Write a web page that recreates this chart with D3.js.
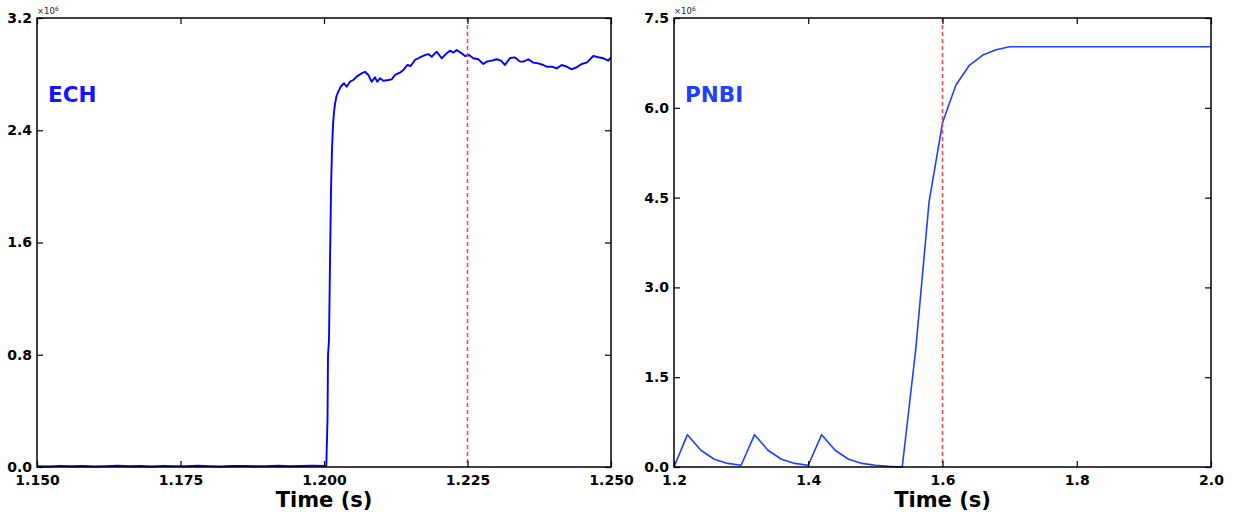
<!DOCTYPE html>
<html>
<head>
<meta charset="utf-8">
<script src="https://cdn.jsdelivr.net/npm/d3@7"></script>
<style>
  html, body { margin: 0; padding: 0; background: #fff; }
  svg { display: block; font-family: "DejaVu Sans", sans-serif; }
</style>
</head>
<body>
<svg id="chart" width="1233" height="515"></svg>
<script>
// ECH power (units of 1e6) versus time (s)
const echTime = [
  1.150, 1.152, 1.154, 1.156, 1.158, 1.160, 1.162, 1.164, 1.166, 1.168,
  1.170, 1.172, 1.174, 1.176, 1.178, 1.180, 1.182, 1.184, 1.186, 1.188,
  1.190, 1.192, 1.194, 1.196, 1.198, 1.2002, 1.2004,
  1.20061, 1.20070, 1.20087, 1.20105, 1.20122, 1.20139, 1.20157, 1.20174, 1.20192,
  1.20218, 1.20249, 1.20291, 1.20348, 1.20395, 1.20453, 1.20510, 1.20570, 1.20657,
  1.20714, 1.20772, 1.20831, 1.20889, 1.20929, 1.20976, 1.21033, 1.21120, 1.21179,
  1.21237, 1.21324, 1.21381, 1.21451, 1.21510, 1.21585, 1.21643, 1.21672, 1.21760,
  1.21817, 1.21876, 1.21963, 1.22050, 1.22138, 1.22195, 1.22253, 1.22312, 1.22399,
  1.22456, 1.22526, 1.22601, 1.22688, 1.22775, 1.22834, 1.22922, 1.23009, 1.23084,
  1.23153, 1.23240, 1.23328, 1.23415, 1.23472, 1.23559, 1.23646, 1.23733, 1.23820,
  1.23880, 1.23967, 1.24054, 1.24141, 1.24228, 1.24315, 1.24402, 1.24489, 1.24577,
  1.24692, 1.24779, 1.24866, 1.24953, 1.25000
];
const echPower = [
  0.006, 0.004, 0.008, 0.005, 0.007, 0.004, 0.006, 0.009, 0.005, 0.007,
  0.004, 0.008, 0.006, 0.005, 0.009, 0.006, 0.004, 0.007, 0.008, 0.005,
  0.006, 0.009, 0.005, 0.007, 0.010, 0.008, 0.010,
  0.335, 0.798, 0.905, 1.475, 1.974, 2.259, 2.437, 2.530, 2.587,
  2.644, 2.675, 2.710, 2.735, 2.710, 2.746, 2.758, 2.782, 2.806,
  2.817, 2.794, 2.746, 2.777, 2.746, 2.770, 2.753, 2.758, 2.763,
  2.794, 2.810, 2.829, 2.865, 2.858, 2.901, 2.913, 2.920, 2.936,
  2.943, 2.924, 2.960, 2.913, 2.948, 2.967, 2.953, 2.972, 2.948,
  2.929, 2.936, 2.913, 2.906, 2.872, 2.889, 2.896, 2.906, 2.896,
  2.865, 2.915, 2.919, 2.889, 2.889, 2.906, 2.882, 2.877, 2.865,
  2.853, 2.853, 2.841, 2.865, 2.853, 2.834, 2.849, 2.872, 2.882,
  2.929, 2.920, 2.913, 2.896, 2.920
];

// PNBI power (units of 1e6) versus time (s)
const nbiTime = [
  1.20, 1.22, 1.24, 1.26, 1.28, 1.30, 1.32, 1.34, 1.36, 1.38, 1.40,
  1.42, 1.44, 1.46, 1.48, 1.50, 1.52, 1.54, 1.56, 1.58, 1.60,
  1.62, 1.64, 1.66, 1.68, 1.70, 1.80, 1.90, 2.00
];
const nbiPower = [
  0.00, 0.54, 0.28, 0.13, 0.06, 0.03, 0.54, 0.28, 0.13, 0.06, 0.03,
  0.54, 0.28, 0.13, 0.06, 0.03, 0.01, 0.00, 1.95, 4.43, 5.75,
  6.38, 6.71, 6.88, 6.97, 7.02, 7.02, 7.02, 7.02
];

const echXTicks = [1.150, 1.175, 1.200, 1.225, 1.250];
const echYTicks = [0.0, 0.8, 1.6, 2.4, 3.2];
const nbiXTicks = [1.2, 1.4, 1.6, 1.8, 2.0];
const nbiYTicks = [0.0, 1.5, 3.0, 4.5, 6.0, 7.5];

const panels = [
  {
    name: "ECH", time: echTime, power: echPower,
    xDomain: [1.150, 1.250], yDomain: [0, 3.2],
    xTicks: echXTicks, yTicks: echYTicks, xFmt: d3.format(".3f"), yFmt: d3.format(".1f"),
    marker: 1.225, left: 37, right: 611, lineColor: "#0000ff", labelColor: "#1414ff", lineWidth: 1.9
  },
  {
    name: "PNBI", time: nbiTime, power: nbiPower,
    xDomain: [1.2, 2.0], yDomain: [0, 7.5],
    xTicks: nbiXTicks, yTicks: nbiYTicks, xFmt: d3.format(".1f"), yFmt: d3.format(".1f"),
    marker: 1.6, left: 674, right: 1211, lineColor: "#1f3fff", labelColor: "#1f3fff", lineWidth: 1.6
  }
];

const plotTop = 18, plotBottom = 467;
const svg = d3.select("#chart");

panels.forEach(p => {
  const x = d3.scaleLinear().domain(p.xDomain).range([p.left, p.right]);
  const y = d3.scaleLinear().domain(p.yDomain).range([plotBottom, plotTop]);
  const g = svg.append("g");

  const pts = p.time.map((t, i) => [t, p.power[i]]);

  // data line
  g.append("path")
    .datum(pts)
    .attr("fill", "none")
    .attr("stroke", p.lineColor)
    .attr("stroke-width", p.lineWidth)
    .attr("stroke-linejoin", "round")
    .attr("d", d3.line().x(d => x(d[0])).y(d => y(d[1])));

  // dashed time marker
  g.append("line")
    .attr("x1", x(p.marker)).attr("x2", x(p.marker))
    .attr("y1", plotTop).attr("y2", plotBottom)
    .attr("stroke", "#ff4040")
    .attr("stroke-width", 1.5)
    .attr("stroke-dasharray", "4,3");

  // inward ticks on all four sides
  const tl = 6;
  const axB = d3.axisBottom(x).tickValues(p.xTicks).tickSizeInner(-tl).tickSizeOuter(0).tickPadding(8).tickFormat(p.xFmt);
  const axT = d3.axisTop(x).tickValues(p.xTicks).tickSizeInner(-tl).tickSizeOuter(0).tickFormat("");
  const axL = d3.axisLeft(y).tickValues(p.yTicks).tickSizeInner(-tl).tickSizeOuter(0).tickPadding(5).tickFormat(p.yFmt);
  const axR = d3.axisRight(y).tickValues(p.yTicks).tickSizeInner(-tl).tickSizeOuter(0).tickFormat("");

  const style = sel => {
    sel.select(".domain").remove();
    sel.selectAll(".tick line").attr("stroke", "#000").attr("stroke-width", 1.2);
    sel.selectAll(".tick text")
      .attr("fill", "#000")
      .style("font-family", "'DejaVu Sans', sans-serif")
      .style("font-size", "14px")
      .style("font-weight", "bold");
  };
  g.append("g").attr("transform", `translate(0,${plotBottom})`).call(axB).call(style);
  g.append("g").attr("transform", `translate(0,${plotTop})`).call(axT).call(style);
  g.append("g").attr("transform", `translate(${p.left},0)`).call(axL).call(style);
  g.append("g").attr("transform", `translate(${p.right},0)`).call(axR).call(style);

  // frame
  g.append("rect")
    .attr("x", p.left).attr("y", plotTop)
    .attr("width", p.right - p.left).attr("height", plotBottom - plotTop)
    .attr("fill", "none").attr("stroke", "#000").attr("stroke-width", 1.5);

  // exponent offset text
  const off = g.append("text")
    .attr("x", p.left).attr("y", 14)
    .style("font-size", "8.5px").attr("fill", "#222");
  off.append("tspan").text("×10");
  off.append("tspan").attr("dy", -3).style("font-size", "6px").text("6");

  // panel label
  g.append("text")
    .attr("x", p.left + 11).attr("y", 102)
    .style("font-size", "21.5px").style("font-weight", "bold")
    .attr("fill", p.labelColor)
    .text(p.name);

  // x axis title
  g.append("text")
    .attr("x", (p.left + p.right) / 2).attr("y", 507)
    .attr("text-anchor", "middle")
    .style("font-size", "21px").style("font-weight", "bold")
    .attr("fill", "#000")
    .text("Time (s)");
});
</script>
</body>
</html>
